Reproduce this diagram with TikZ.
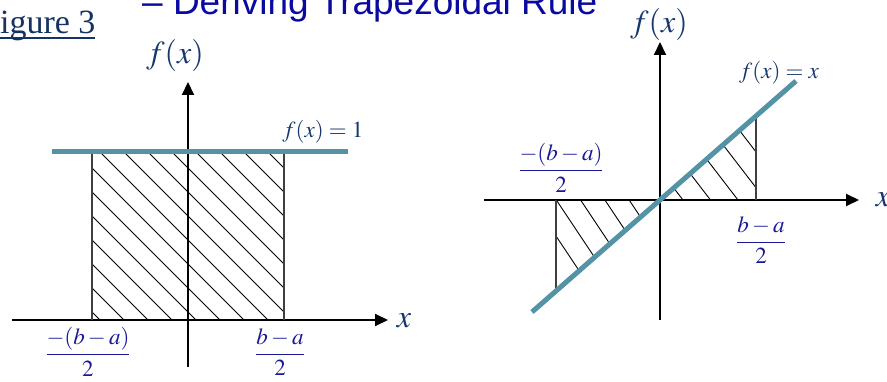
\documentclass[tikz,border=0pt]{standalone}
\usepackage{amsmath}
\usepackage{mathptmx}
\usepackage{fontspec}
\setmainfont{Liberation Serif}
\newfontfamily\titlefont{Liberation Sans}
\usetikzlibrary{arrows.meta}

\definecolor{titleblue}{RGB}{10,10,160}
\definecolor{figblue}{RGB}{22,50,100}
\definecolor{fxblue}{RGB}{23,55,110}
\definecolor{fracblue}{RGB}{25,25,150}
\definecolor{linecol}{RGB}{84,147,166}

\newcommand{\figline}[1]{{\setbox0\hbox{#1}\rlap{\rule[-5pt]{\wd0}{1.6pt}}\box0}}

\tikzset{
  axis/.style={line width=2pt, -{Triangle[length=13pt,width=12pt]}},
  curve/.style={draw=linecol, line width=5pt},
  side/.style={draw=black!75, line width=1.6pt},
  hatch/.style={line width=0.9pt},
  fxlabel/.style={text=fxblue, font=\fontsize{32}{36}\selectfont, inner sep=0pt},
  fnlabel/.style={text=fxblue, font=\fontsize{23}{27}\selectfont, inner sep=0pt},
  fraclabel/.style={text=fracblue, font=\fontsize{23}{27}\selectfont, inner sep=0pt},
}

\begin{document}
\begin{tikzpicture}[x=1pt,y=-1pt]
  \useasboundingbox (0,0) rectangle (887,382);

  % Heading
  \node[anchor=base west, text=titleblue, inner sep=0pt,
        font=\titlefont\fontsize{37}{40}\selectfont] (title) at (142,15)
        {– Deriving Trapezoidal Rule};
  \node[anchor=base west, text=figblue, inner sep=0pt,
        font=\fontsize{34}{38}\selectfont] (fig) at (-19,34) {\figline{Figure 3}};

  % Left graph: f(x) = 1
  \coordinate (lxa) at (12,320);
  \coordinate (lxb) at (388,320);
  \coordinate (lya) at (188,367);
  \coordinate (lyb) at (188,82);
  \coordinate (lt1) at (92,152);
  \coordinate (lt2) at (284,152);
  \coordinate (lb1) at (92,320);
  \coordinate (lb2) at (284,320);
  \coordinate (lf1) at (52,152);
  \coordinate (lf2) at (348,152);

  \begin{scope}
    \clip (lt1) rectangle (lb2);
    \foreach \c in {-220,-196,...,116}
      \draw[hatch] (\c+100,100) -- (\c+400,400);
  \end{scope}
  \draw[axis] (lxa) -- (lxb);
  \draw[axis] (lya) -- (lyb);
  \draw[side] (lt1) -- (lb1);
  \draw[side] (lt2) -- (lb2);
  \draw[curve] (lf1) -- (lf2);

  \node[fxlabel] (lfx) at (175,56) {$f(x)$};
  \node[fxlabel] (lx) at (404,321) {$x$};
  \node[fnlabel] (lfn) at (323,132) {$f(x)=1$};
  \node[fraclabel] (lla) at (88,352) {$\dfrac{-(b-a)}{2}$};
  \node[fraclabel] (llb) at (280,352) {$\dfrac{b-a}{2}$};

  % Right graph: f(x) = x
  \coordinate (o) at (660,200);
  \coordinate (rxa) at (484,200);
  \coordinate (rxb) at (859,200);
  \coordinate (rya) at (660,320);
  \coordinate (ryb) at (660,42);
  \coordinate (rf1) at (532,312);
  \coordinate (rf2) at (796,81);
  \coordinate (ra) at (556,200);
  \coordinate (ra2) at (556,291);
  \coordinate (rb) at (756,200);
  \coordinate (rb2) at (756,116);

  \begin{scope}
    \clip (o) -- (rb) -- (rb2) -- cycle;
    \foreach \s in {683,710.5,...,800}
      \draw[hatch] (\s-100,70) -- (\s+100,330);
  \end{scope}
  \begin{scope}
    \clip (o) -- (ra) -- (ra2) -- cycle;
    \foreach \s in {532,556.3,...,640}
      \draw[hatch] (\s-100,50) -- (\s+100,350);
  \end{scope}
  \draw[axis] (rxa) -- (rxb);
  \draw[axis] (rya) -- (ryb);
  \draw[side] (ra) -- (ra2);
  \draw[side] (rb) -- (rb2);
  \draw[curve] (rf1) -- (rf2);

  \node[fxlabel] (rfx) at (659,25) {$f(x)$};
  \node[fxlabel] (rx) at (883,200) {$x$};
  \node[fnlabel] (rfn) at (779,73) {$f(x)=x$};
  \node[fraclabel] (rla) at (561,168) {$\dfrac{-(b-a)}{2}$};
  \node[fraclabel] (rlb) at (761,240) {$\dfrac{b-a}{2}$};
\end{tikzpicture}
\end{document}
